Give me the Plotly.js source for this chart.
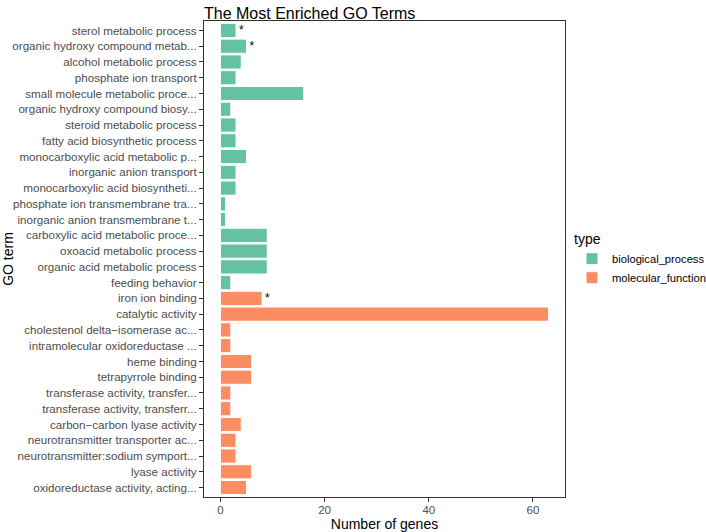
<!DOCTYPE html>
<html>
<head>
<meta charset="utf-8">
<script src="https://cdn.plot.ly/plotly-3.0.1.min.js"></script>
<style>
  body { margin: 0; background: #fff; }
  #chart { width: 706px; height: 532px; }
</style>
</head>
<body>
<div id="chart"></div>
<script>
// GO terms, top to bottom as in the figure
const bpTerms = [
  'sterol metabolic process',
  'organic hydroxy compound metab...',
  'alcohol metabolic process',
  'phosphate ion transport',
  'small molecule metabolic proce...',
  'organic hydroxy compound biosy...',
  'steroid metabolic process',
  'fatty acid biosynthetic process',
  'monocarboxylic acid metabolic p...',
  'inorganic anion transport',
  'monocarboxylic acid biosyntheti...',
  'phosphate ion transmembrane tra...',
  'inorganic anion transmembrane t...',
  'carboxylic acid metabolic proce...',
  'oxoacid metabolic process',
  'organic acid metabolic process',
  'feeding behavior'
];
const bpCounts = [3, 5, 4, 3, 16, 2, 3, 3, 5, 3, 3, 1, 1, 9, 9, 9, 2];
const bpMarks  = ['*', '*', '', '', '', '', '', '', '', '', '', '', '', '', '', '', ''];

const mfTerms = [
  'iron ion binding',
  'catalytic activity',
  'cholestenol delta\u2212isomerase ac...',
  'intramolecular oxidoreductase ...',
  'heme binding',
  'tetrapyrrole binding',
  'transferase activity, transfer...',
  'transferase activity, transferr...',
  'carbon\u2212carbon lyase activity',
  'neurotransmitter transporter ac...',
  'neurotransmitter:sodium symport...',
  'lyase activity',
  'oxidoreductase activity, acting...'
];
const mfCounts = [8, 63, 2, 2, 6, 6, 2, 2, 4, 3, 3, 6, 5];
const mfMarks  = ['*', '', '', '', '', '', '', '', '', '', '', '', ''];

const allTerms = bpTerms.concat(mfTerms);
const font = 'Liberation Sans, Arial, Helvetica, sans-serif';

function barTrace(terms, counts, marks, name, color) {
  return {
    type: 'bar',
    orientation: 'h',
    name: name,
    y: terms,
    x: counts,
    width: 0.9,
    text: marks,
    textposition: 'outside',
    cliponaxis: false,
    textfont: { family: font, size: 12, color: '#000' },
    marker: { color: color, line: { color: '#ffffff', width: 1 } },
    hoverinfo: 'x+y'
  };
}

const data = [
  barTrace(bpTerms, bpCounts, bpMarks, 'biological_process', '#66C2A5'),
  barTrace(mfTerms, mfCounts, mfMarks, 'molecular_function', '#FC8D62')
];

const layout = {
  width: 706,
  height: 532,
  paper_bgcolor: '#ffffff',
  plot_bgcolor: '#ffffff',
  margin: { l: 204, r: 141, t: 21, b: 35, pad: 0 },
  font: { family: font, color: '#000' },
  title: {
    text: 'The Most Enriched GO Terms',
    font: { family: font, size: 16, color: '#000' },
    x: 204 / 706,
    xanchor: 'left',
    y: 0.985,
    yanchor: 'top',
    automargin: false
  },
  barmode: 'group',
  bargap: 0.1,
  showlegend: true,
  legend: {
    title: { text: 'type', font: { family: font, size: 14, color: '#000' } },
    font: { family: font, size: 11.2, color: '#000' },
    xref: 'container',
    yref: 'container',
    x: 572 / 706,
    xanchor: 'left',
    y: 1 - 226 / 532,
    yanchor: 'top',
    itemwidth: 30,
    bgcolor: 'rgba(0,0,0,0)',
    traceorder: 'normal'
  },
  xaxis: {
    automargin: false,
    range: [-3.15, 66.15],
    tickvals: [0, 20, 40, 60],
    ticks: 'outside',
    ticklen: 4,
    ticklabelstandoff: -2,
    tickcolor: '#333',
    tickfont: { family: font, size: 11.5, color: '#4D4D4D' },
    showline: true,
    linecolor: '#333',
    linewidth: 1,
    mirror: true,
    showgrid: false,
    zeroline: false,
    title: {
      text: 'Number of genes',
      font: { family: font, size: 14, color: '#000' },
      standoff: 3
    }
  },
  yaxis: {
    automargin: false,
    type: 'category',
    categoryorder: 'array',
    categoryarray: allTerms.slice().reverse(),
    range: [-0.6, allTerms.length - 0.4],
    ticks: 'outside',
    ticklen: 4,
    tickcolor: '#333',
    tickfont: { family: font, size: 11.6, color: '#4D4D4D' },
    showline: true,
    linecolor: '#333',
    linewidth: 1,
    mirror: true,
    showgrid: false,
    zeroline: false,
    title: {
      text: 'GO term',
      font: { family: font, size: 14, color: '#000' },
      standoff: 6
    }
  }
};

Plotly.newPlot('chart', data, layout, { displayModeBar: false, staticPlot: true });
</script>
</body>
</html>
